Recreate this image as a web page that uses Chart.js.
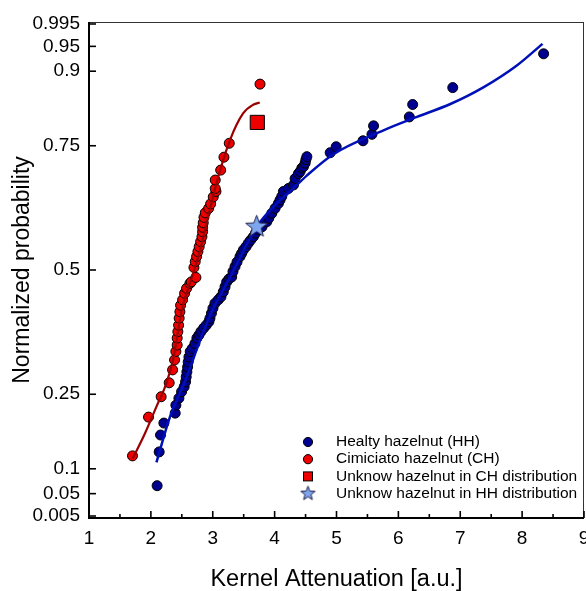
<!DOCTYPE html>
<html>
<head>
<meta charset="utf-8">
<script src="https://cdn.jsdelivr.net/npm/chart.js@4.4.1/dist/chart.umd.min.js"></script>
<style>
  html, body { margin: 0; padding: 0; background: #fff; overflow: hidden; }
  /* a bit wider than the window so the last x label gets cut like in the figure */
  #wrap { position: relative; width: 600px; height: 591px; }
</style>
</head>
<body>
<div id="wrap"><canvas id="probChart"></canvas></div>
<script>
// ---------- data ----------
const chX = [1.703, 1.962, 2.166, 2.296, 2.351, 2.383, 2.404, 2.425, 2.425, 2.436, 2.448, 2.457, 2.469, 2.480,
  2.513, 2.545, 2.577, 2.631, 2.652, 2.728, 2.696, 2.717, 2.739, 2.760, 2.781, 2.804, 2.825, 2.836, 2.836,
  2.846, 2.858, 2.879, 2.934, 2.966, 3.008, 3.052, 3.040, 3.040, 3.128, 3.181, 3.267, 3.764];
const chY = [0.126, 0.204, 0.245, 0.273, 0.299, 0.319, 0.336, 0.349, 0.363, 0.376, 0.389, 0.403, 0.416, 0.429,
  0.440, 0.453, 0.463, 0.473, 0.476, 0.485, 0.505, 0.517, 0.527, 0.537, 0.547, 0.557, 0.567, 0.577, 0.586,
  0.595, 0.606, 0.615, 0.624, 0.633, 0.647, 0.658, 0.664, 0.681, 0.701, 0.727, 0.755, 0.874];

const hhX = [2.101, 2.134, 2.156, 2.210, 2.393, 2.404, 2.453, 2.496, 2.538, 2.561, 2.571, 2.582, 2.594, 2.603,
  2.615, 2.636, 2.668, 2.712, 2.744, 2.776, 2.809, 2.853, 2.895, 2.938, 2.955, 2.979, 3.003, 3.036, 3.089,
  3.133, 3.170, 3.198, 3.225, 3.262, 3.306, 3.327, 3.360, 3.392, 3.440, 3.465, 3.494, 3.538, 3.575, 3.611,
  3.656, 3.691, 3.737, 3.797, 3.873, 3.905, 3.954, 4.007, 4.061, 4.088, 4.116, 4.142, 4.223, 4.304, 4.331,
  4.385, 4.412, 4.440, 4.466, 4.493, 4.505, 4.521, 4.898, 4.995, 5.428, 5.573, 5.599, 6.177, 6.231, 6.879, 8.347];
const hhY = [0.066, 0.134, 0.168, 0.192, 0.212, 0.228, 0.242, 0.255, 0.265, 0.275, 0.285, 0.295, 0.305, 0.315,
  0.325, 0.336, 0.342, 0.352, 0.363, 0.369, 0.376, 0.383, 0.389, 0.396, 0.403, 0.413, 0.423, 0.433, 0.440,
  0.446, 0.456, 0.466, 0.476, 0.482, 0.486, 0.497, 0.507, 0.516, 0.527, 0.533, 0.540, 0.547, 0.554, 0.560,
  0.567, 0.574, 0.581, 0.587, 0.597, 0.604, 0.614, 0.624, 0.634, 0.641, 0.648, 0.658, 0.664, 0.671, 0.684,
  0.694, 0.698, 0.705, 0.708, 0.715, 0.722, 0.728, 0.736, 0.748, 0.760, 0.773, 0.790, 0.808, 0.833, 0.867, 0.935];

// fitted curves
const chFitX = [1.703, 1.90, 2.09, 2.25, 2.36, 2.43, 2.50, 2.60, 2.70, 2.80, 2.95, 3.12, 3.28, 3.49, 3.66, 3.76];
const chFitY = [0.120, 0.170, 0.225, 0.272, 0.320, 0.370, 0.420, 0.462, 0.500, 0.542, 0.621, 0.701, 0.762, 0.815, 0.833, 0.837];
const hhFitX = [2.09, 2.31, 2.55, 2.80, 3.00, 3.30, 3.71, 4.00, 4.25, 4.52, 4.95, 5.76, 6.30, 6.84, 7.38, 7.92, 8.33];
const hhFitY = [0.113, 0.205, 0.275, 0.360, 0.420, 0.490, 0.587, 0.630, 0.658, 0.690, 0.733, 0.781, 0.808, 0.834, 0.868, 0.912, 0.955];

// unknown hazelnut
const unknownCH = { x: 3.72, y: 0.797 };
const unknownHH = { x: 3.71, y: 0.588 };

const yTickValues = [0.005, 0.05, 0.1, 0.25, 0.5, 0.75, 0.9, 0.95, 0.995];
const yTickLabels = ['0.005', '0.05', '0.1', '0.25', '0.5', '0.75', '0.9', '0.95', '0.995'];

const legendLabels = ['Healty hazelnut (HH)', 'Cimiciato hazelnut (CH)',
  'Unknow hazelnut in CH distribution', 'Unknow hazelnut in HH distribution'];

const FONT = "'Liberation Sans', Arial, sans-serif";
const RED = '#ee0000';
const NAVY = '#000090';
const STAR_FILL = '#7ea6ee';

const zip = (xs, ys) => xs.map((v, i) => ({ x: v, y: ys[i] }));

// star marker as image (Chart.js 'star' is only an asterisk)
function makeStar(outer, fill) {
  const c = document.createElement('canvas');
  const s = Math.ceil(outer * 2 + 4);
  c.width = s; c.height = s;
  const g = c.getContext('2d');
  const cx = s / 2, cy = s / 2 + 0.5, inner = outer * 0.42;
  g.beginPath();
  for (let i = 0; i < 10; i++) {
    const r = i % 2 ? inner : outer;
    const a = -Math.PI / 2 + i * Math.PI / 5;
    g.lineTo(cx + r * Math.cos(a), cy + r * Math.sin(a));
  }
  g.closePath();
  g.fillStyle = fill; g.fill();
  g.lineWidth = 1; g.strokeStyle = '#20204a'; g.stroke();
  return c;
}
const starBig = makeStar(11.5, STAR_FILL);
const starSmall = makeStar(7.5, STAR_FILL);

// frame + inward ticks
const frameTicks = {
  id: 'frameTicks',
  afterDatasetsDraw(chart) {
    const { ctx, chartArea: a, scales: { x, y } } = chart;
    const line = (x1, y1, x2, y2) => { ctx.beginPath(); ctx.moveTo(x1, y1); ctx.lineTo(x2, y2); ctx.stroke(); };
    ctx.save();
    ctx.strokeStyle = '#333'; ctx.lineWidth = 1;
    line(a.left, a.top + 0.5, a.right - 0.5, a.top + 0.5);
    line(a.right - 0.5, a.top, a.right - 0.5, a.bottom);
    ctx.strokeStyle = '#000'; ctx.lineWidth = 2;
    line(a.left, a.top, a.left, a.bottom + 1);
    line(a.left - 1, a.bottom, a.right, a.bottom);
    ctx.lineWidth = 1.6;
    x.ticks.forEach(t => {
      const px = x.getPixelForValue(t.value);
      line(px, a.bottom, px, a.bottom - 7);
      if (t.value < x.max) {
        const pm = x.getPixelForValue(t.value + 0.5);
        line(pm, a.bottom, pm, a.bottom - 4);
      }
    });
    y.ticks.forEach(t => {
      const py = y.getPixelForValue(t.value);
      line(a.left, py, a.left + 7, py);
    });
    ctx.restore();
  }
};

// legend inside the plot, bottom right
const insideLegend = {
  id: 'insideLegend',
  afterDraw(chart) {
    const { ctx } = chart;
    const mx = 308, tx = 336, y0 = 442, dy = 17.2;
    ctx.save();
    ctx.font = '15.5px ' + FONT;
    ctx.fillStyle = '#000';
    ctx.textBaseline = 'middle';
    ctx.textAlign = 'left';
    legendLabels.forEach((t, i) => ctx.fillText(t, tx, y0 + i * dy));
    ctx.lineWidth = 1; ctx.strokeStyle = '#000';
    const dot = (cy, fill) => {
      ctx.beginPath(); ctx.arc(mx, cy, 4.6, 0, Math.PI * 2);
      ctx.fillStyle = fill; ctx.fill(); ctx.stroke();
    };
    dot(y0, NAVY);
    dot(y0 + dy, RED);
    ctx.fillStyle = RED;
    ctx.fillRect(mx - 4.5, y0 + 2 * dy - 4.5, 9, 9);
    ctx.strokeRect(mx - 4.5, y0 + 2 * dy - 4.5, 9, 9);
    ctx.drawImage(starSmall, mx - starSmall.width / 2, y0 + 3 * dy - starSmall.height / 2 - 0.5);
    ctx.restore();
  }
};

const ctx = document.getElementById('probChart').getContext('2d');

window.probChart = new Chart(ctx, {
  type: 'scatter',
  data: {
    datasets: [
      {
        label: 'HH fit',
        type: 'line',
        data: zip(hhFitX, hhFitY),
        borderColor: '#0010b8',
        borderWidth: 2.5,
        pointRadius: 0,
        cubicInterpolationMode: 'monotone',
        fill: false,
        order: 1
      },
      {
        label: 'CH fit',
        type: 'line',
        data: zip(chFitX, chFitY),
        borderColor: '#9a0000',
        borderWidth: 2.2,
        pointRadius: 0,
        cubicInterpolationMode: 'monotone',
        fill: false,
        order: 1
      },
      {
        label: legendLabels[0],
        data: zip(hhX, hhY),
        pointStyle: 'circle',
        pointRadius: 5,
        backgroundColor: NAVY,
        borderColor: '#000',
        borderWidth: 1,
        order: 2
      },
      {
        label: legendLabels[1],
        data: zip(chX, chY),
        pointStyle: 'circle',
        pointRadius: 5,
        backgroundColor: RED,
        borderColor: '#000',
        borderWidth: 1,
        order: 2
      },
      {
        label: legendLabels[2],
        data: [unknownCH],
        pointStyle: 'rect',
        pointRadius: 10,
        backgroundColor: RED,
        borderColor: '#000',
        borderWidth: 1,
        order: 0
      },
      {
        label: legendLabels[3],
        data: [unknownHH],
        pointStyle: starBig,
        order: -1
      }
    ]
  },
  options: {
    responsive: true,
    maintainAspectRatio: false,
    animation: false,
    events: [],
    layout: { padding: { top: 22, right: 16, left: 0, bottom: 0 } },
    plugins: {
      legend: { display: false },
      tooltip: { enabled: false }
    },
    scales: {
      x: {
        type: 'linear',
        min: 1,
        max: 9,
        grid: { display: false, drawTicks: false },
        border: { display: false },
        ticks: { stepSize: 1, padding: 9, color: '#000', font: { family: FONT, size: 19 } },
        title: {
          display: true,
          text: 'Kernel Attenuation [a.u.]',
          color: '#000',
          font: { family: FONT, size: 23.5, lineHeight: 1 },
          padding: 0
        },
        afterFit: s => { s.height = 73; }
      },
      y: {
        type: 'linear',
        min: 0.001,
        max: 0.999,
        grid: { display: false, drawTicks: false },
        border: { display: false },
        afterBuildTicks: s => { s.ticks = yTickValues.map(v => ({ value: v })); },
        ticks: {
          padding: 9,
          color: '#000',
          font: { family: FONT, size: 19 },
          callback: v => yTickLabels[yTickValues.indexOf(v)]
        },
        title: {
          display: true,
          text: 'Normalized probability',
          color: '#000',
          font: { family: FONT, size: 23, lineHeight: 1 },
          padding: { top: 11, bottom: 0 }
        },
        afterFit: s => { s.width = 89; }
      }
    }
  },
  plugins: [frameTicks, insideLegend]
});
</script>
</body>
</html>
